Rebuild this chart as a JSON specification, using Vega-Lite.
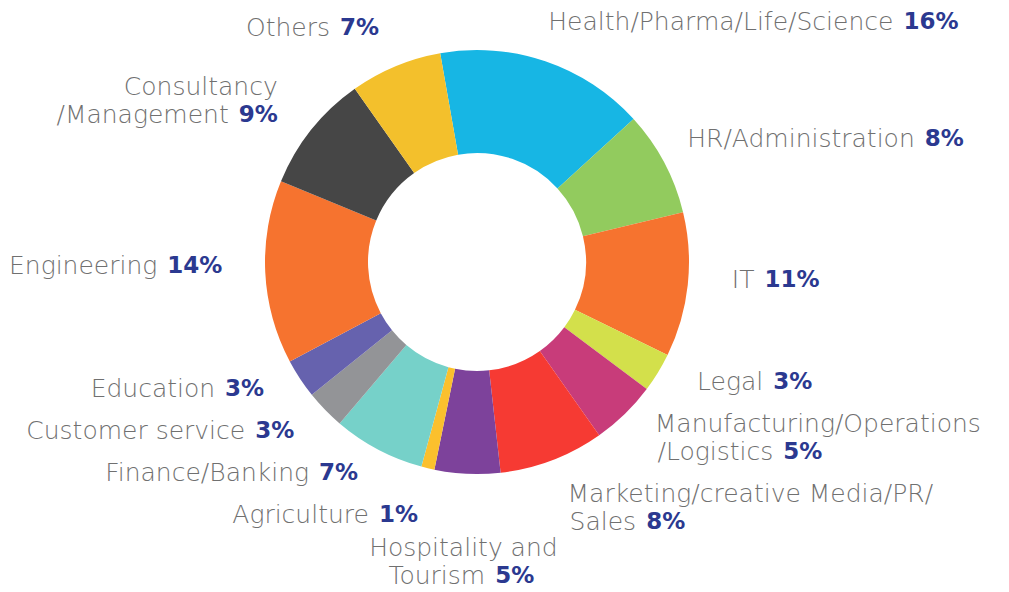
{
  "$schema": "https://vega.github.io/schema/vega-lite/v6.json",
  "width": 954,
  "height": 524,
  "autosize": {"type": "none"},
  "padding": {"left": 0, "top": 0, "right": 55, "bottom": 68},
  "background": "white",
  "view": {"stroke": null},
  "data": {
    "values": [
      {"category": "Health/Pharma/Life/Science", "value": 16},
      {"category": "HR/Administration", "value": 8},
      {"category": "IT", "value": 11},
      {"category": "Legal", "value": 3},
      {"category": "Manufacturing/Operations\n/Logistics", "value": 5},
      {"category": "Marketing/creative Media/PR/\nSales", "value": 8},
      {"category": "Hospitality and\nTourism", "value": 5},
      {"category": "Agriculture", "value": 1},
      {"category": "Finance/Banking", "value": 7},
      {"category": "Customer service", "value": 3},
      {"category": "Education", "value": 3},
      {"category": "Engineering", "value": 14},
      {"category": "Consultancy\n/Management", "value": 9},
      {"category": "Others", "value": 7}
    ]
  },
  "transform": [
    {"window": [{"op": "row_number", "as": "idx"}, {"op": "sum", "field": "value", "as": "cum"}], "frame": [null, 0]},
    {"calculate": "datum.cum - datum.value / 2", "as": "mid"},
    {"calculate": "-PI / 18 + datum.mid / 100 * 2 * PI", "as": "ang"},
    {"calculate": "sin(datum.ang) > 0.1 ? 'R' : (sin(datum.ang) < -0.1 ? 'L' : 'B')", "as": "side"},
    {"calculate": "datum.side == 'B' ? 300 * sin(datum.ang) : 255 * sin(datum.ang)", "as": "ax"},
    {"calculate": "datum.side == 'B' ? -300 * cos(datum.ang) : -245 * cos(datum.ang) - 8", "as": "ay"},
    {"calculate": "indexof(datum.category, '\\n')", "as": "brk"},
    {"calculate": "datum.brk >= 0 ? 70 : 42", "as": "h"},
    {"window": [{"op": "sum", "field": "h", "as": "cumh"}], "groupby": ["side"], "sort": [{"field": "ay", "order": "ascending"}], "frame": [null, 0]},
    {"calculate": "datum.cumh - datum.h / 2", "as": "hc"},
    {"calculate": "datum.ay - datum.hc", "as": "d"},
    {"window": [{"op": "max", "field": "d", "as": "md"}], "groupby": ["side"], "sort": [{"field": "ay", "order": "ascending"}], "frame": [null, 0]},
    {"calculate": "datum.hc + datum.md", "as": "cy"},
    {"calculate": "datum.brk >= 0 ? substring(datum.category, 0, datum.brk) : ''", "as": "first"},
    {"calculate": "datum.brk >= 0 ? substring(datum.category, datum.brk + 1) : datum.category", "as": "last"},
    {"calculate": "datum.value + '%'", "as": "pct"},
    {"calculate": "length(replace(datum.last, regexp('[^iljtfrI/ ]', 'g'), ''))", "as": "nn"},
    {"calculate": "length(replace(datum.last, regexp('[^cskvxyzL]', 'g'), ''))", "as": "nm"},
    {"calculate": "datum.nn * 8.4 + datum.nm * 13.4 + (length(datum.last) - datum.nn - datum.nm) * 15.6", "as": "wl"},
    {"calculate": "(length(datum.pct) - 1) * 16 + 23", "as": "wp"},
    {"calculate": "datum.side == 'R' ? datum.ax + datum.wl : (datum.side == 'L' ? datum.ax - 10 - datum.wp : datum.ax + (datum.wl - 10 - datum.wp) / 2)", "as": "jx"},
    {"calculate": "datum.cy + (datum.brk >= 0 ? 14 : 0)", "as": "ly"},
    {"calculate": "datum.cy - 14", "as": "fy"}
  ],
  "layer": [
    {
      "mark": {"type": "arc", "outerRadius": 212, "innerRadius": 109},
      "encoding": {
        "theta": {"field": "value", "type": "quantitative", "stack": true, "scale": {"range": [-0.174533, 6.108652]}},
        "order": {"field": "idx", "type": "quantitative"},
        "color": {
          "field": "category",
          "type": "nominal",
          "legend": null,
          "scale": {
            "domain": ["Health/Pharma/Life/Science", "HR/Administration", "IT", "Legal", "Manufacturing/Operations\n/Logistics", "Marketing/creative Media/PR/\nSales", "Hospitality and\nTourism", "Agriculture", "Finance/Banking", "Customer service", "Education", "Engineering", "Consultancy\n/Management", "Others"],
            "range": ["#17b6e4", "#92cb5e", "#f6732f", "#d3e04b", "#c83c7a", "#f63a33", "#7d429b", "#fbc02d", "#76d1c9", "#939497", "#6662ae", "#f6732f", "#464646", "#f3c02c"]
          }
        }
      }
    },
    {
      "mark": {"type": "text", "align": "right", "baseline": "middle", "font": "DejaVu Sans", "fontWeight": 200, "fontSize": 25, "color": "#707070"},
      "encoding": {
        "x": {"field": "jx", "type": "quantitative", "scale": {"domain": [-477, 477], "nice": false}, "axis": null},
        "y": {"field": "ly", "type": "quantitative", "scale": {"domain": [262, -262], "nice": false}, "axis": null},
        "text": {"field": "last"}
      }
    },
    {
      "mark": {"type": "text", "align": "left", "baseline": "middle", "dx": 10, "font": "DejaVu Sans", "fontWeight": 700, "fontSize": 23, "color": "#2b3990"},
      "encoding": {
        "x": {"field": "jx", "type": "quantitative"},
        "y": {"field": "ly", "type": "quantitative"},
        "text": {"field": "pct"}
      }
    },
    {
      "transform": [{"filter": "datum.brk >= 0 && datum.side == 'R'"}],
      "mark": {"type": "text", "align": "left", "baseline": "middle", "font": "DejaVu Sans", "fontWeight": 200, "fontSize": 25, "color": "#707070"},
      "encoding": {
        "x": {"field": "ax", "type": "quantitative"},
        "y": {"field": "fy", "type": "quantitative"},
        "text": {"field": "first"}
      }
    },
    {
      "transform": [{"filter": "datum.brk >= 0 && datum.side == 'L'"}],
      "mark": {"type": "text", "align": "right", "baseline": "middle", "font": "DejaVu Sans", "fontWeight": 200, "fontSize": 25, "color": "#707070"},
      "encoding": {
        "x": {"field": "ax", "type": "quantitative"},
        "y": {"field": "fy", "type": "quantitative"},
        "text": {"field": "first"}
      }
    },
    {
      "transform": [{"filter": "datum.brk >= 0 && datum.side == 'B'"}],
      "mark": {"type": "text", "align": "center", "baseline": "middle", "font": "DejaVu Sans", "fontWeight": 200, "fontSize": 25, "color": "#707070"},
      "encoding": {
        "x": {"field": "ax", "type": "quantitative"},
        "y": {"field": "fy", "type": "quantitative"},
        "text": {"field": "first"}
      }
    }
  ]
}
